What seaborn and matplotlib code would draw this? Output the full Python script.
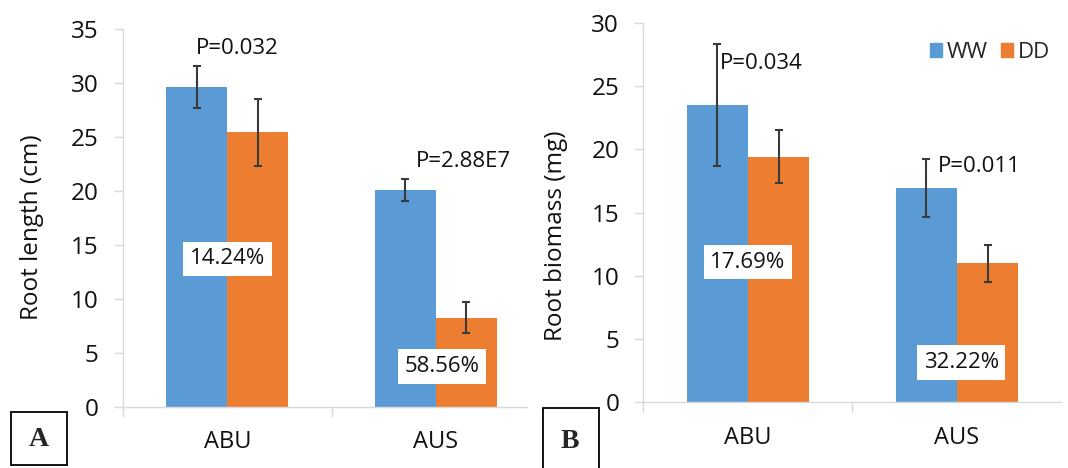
import numpy as np
import pandas as pd
import matplotlib
matplotlib.use("Agg")
import matplotlib.pyplot as plt
from matplotlib.patches import Rectangle
import seaborn as sns

cultivars = ["ABU", "AUS"]
treatments = ["WW", "DD"]

# root length (cm)
length_ww = [29.6, 20.05]
length_dd = [25.4, 8.25]
length_ww_err = [1.9, 1.0]
length_dd_err = [3.1, 1.4]
length_p = ["P=0.032", "P=2.88E7"]
length_drop = ["14.24%", "58.56%"]

# root biomass (mg)
biomass_ww = [23.5, 16.95]
biomass_dd = [19.4, 11.0]
biomass_ww_err = [4.8, 2.3]
biomass_dd_err = [2.1, 1.45]
biomass_p = ["P=0.034", "P=0.011"]
biomass_drop = ["17.69%", "32.22%"]

colors = {"WW": "#5B9BD5", "DD": "#ED7D31"}
grey = "#D9D9D9"
ink = "#111111"

sns.set_theme(style="white")
plt.rcParams["font.family"] = ["Open Sans", "DejaVu Sans"]
FS = 16


def draw_panel(ax, ww, dd, ww_err, dd_err, ymax, ylabel):
    df = pd.DataFrame({
        "cultivar": cultivars * 2,
        "treatment": ["WW"] * 2 + ["DD"] * 2,
        "value": ww + dd,
    })
    sns.barplot(data=df, x="cultivar", y="value", hue="treatment",
                hue_order=treatments, palette=colors, width=0.585, gap=0,
                errorbar=None, saturation=1, linewidth=0, legend=False, ax=ax)
    for cont, err in zip(ax.containers, [ww_err, dd_err]):
        xs = [b.get_x() + b.get_width() / 2 for b in cont]
        hs = [b.get_height() for b in cont]
        ax.errorbar(xs, hs, yerr=err, fmt="none", ecolor="#3a3a3a",
                    elinewidth=1.5, capsize=3.2, capthick=1.5, zorder=4)

    ax.set_ylim(0, ymax)
    ax.set_yticks(np.arange(0, ymax + 1, 5))
    ax.tick_params(axis="y", which="major", left=True, length=6.5, width=1,
                   color=grey, labelsize=17.5, pad=11, labelcolor=ink)
    # category separators as major ticks, names as minor ticks
    ax.set_xticks([-0.5, 0.5])
    ax.set_xticklabels([])
    ax.set_xticks([0, 1], minor=True)
    ax.set_xticklabels(cultivars, minor=True)
    ax.tick_params(axis="x", which="major", bottom=True, length=7, width=1, color=grey)
    ax.tick_params(axis="x", which="minor", bottom=True, length=0, labelsize=17,
                   pad=17, labelcolor=ink)
    ax.set_xlabel("")
    ax.set_ylabel(ylabel, fontsize=17.5, color=ink)
    for s in ["top", "right"]:
        ax.spines[s].set_visible(False)
    for s in ["left", "bottom"]:
        ax.spines[s].set_color(grey)
        ax.spines[s].set_linewidth(1)


fig = plt.figure(figsize=(10.68, 4.68), dpi=100)
axA = fig.add_axes([0.1152, 0.131, 0.3783, 0.8077])
axB = fig.add_axes([0.6025, 0.140, 0.3914, 0.8115])

draw_panel(axA, length_ww, length_dd, length_ww_err, length_dd_err, 35, "Root length (cm)")
axA.set_xlim(-0.5, 1.4375)
axA.yaxis.set_label_coords(-0.196, 0.474)

draw_panel(axB, biomass_ww, biomass_dd, biomass_ww_err, biomass_dd_err, 30, "Root biomass (mg)")
axB.set_xlim(-0.5, 1.5)
axB.yaxis.set_label_coords(-0.18, 0.438)

box = dict(boxstyle="square,pad=0.3", fc="white", ec="none")

# p-values and percentage reduction labels
axA.text(-0.149, 33.2, length_p[0], ha="left", va="center", fontsize=FS, color=ink)
axA.text(0.904, 22.7, length_p[1], ha="left", va="center", fontsize=FS, color=ink)
axA.text(0.0, 13.7, length_drop[0], ha="center", va="center", fontsize=FS, color=ink, bbox=box, zorder=5)
axA.text(1.03, 3.72, length_drop[1], ha="center", va="center", fontsize=FS, color=ink, bbox=box, zorder=5)

axB.text(-0.136, 26.77, biomass_p[0], ha="left", va="center", fontsize=FS, color=ink)
axB.text(0.91, 18.67, biomass_p[1], ha="left", va="center", fontsize=FS, color=ink)
axB.text(0.0, 11.09, biomass_drop[0], ha="center", va="center", fontsize=FS, color=ink, bbox=box, zorder=5)
axB.text(1.02, 3.17, biomass_drop[1], ha="center", va="center", fontsize=FS, color=ink, bbox=box, zorder=5)

# legend
handles = [plt.Rectangle((0, 0), 1, 1, color=colors[t]) for t in treatments]
fig.legend(handles, treatments, loc="center right", ncol=2, frameon=False,
           bbox_to_anchor=(1050 / 1068, 1 - 52.5 / 468), fontsize=FS,
           handlelength=0.55, handleheight=0.55, handletextpad=0.2,
           columnspacing=0.6, borderpad=0, borderaxespad=0)

# panel letters
W, H = 1068, 468
fig.add_artist(Rectangle((11 / W, 1 - 465 / H), 55.7 / W, 53.3 / H, transform=fig.transFigure,
                         fill=False, ec="black", lw=1.3))
fig.text(38.5 / W, 1 - 439 / H, "A", ha="center", va="center", fontsize=20,
         fontweight="bold", family="Liberation Serif")
fig.add_artist(Rectangle((542.5 / W, 1 - 480 / H), 56.5 / W, 72 / H, transform=fig.transFigure,
                         fill=False, ec="black", lw=1.3))
fig.text(570 / W, 1 - 442 / H, "B", ha="center", va="center", fontsize=20,
         fontweight="bold", family="Liberation Serif")

fig.savefig("out.png", dpi=100)
